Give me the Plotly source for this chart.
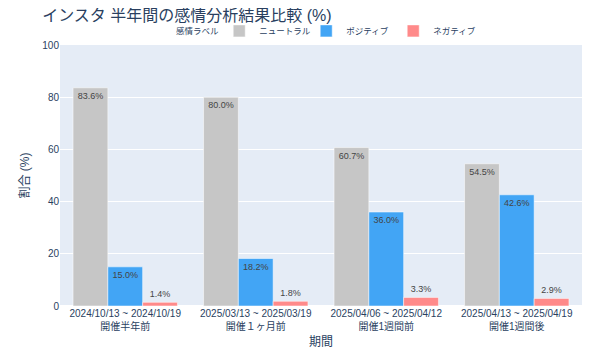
import plotly.graph_objects as go

periods = ["2024/10/13 ~ 2024/10/19<br>開催半年前",
           "2025/03/13 ~ 2025/03/19<br>開催１ヶ月前",
           "2025/04/06 ~ 2025/04/12<br>開催1週間前",
           "2025/04/13 ~ 2025/04/19<br>開催1週間後"]
neutral = [83.6, 80.0, 60.7, 54.5]
positive = [15.0, 18.2, 36.0, 42.6]
negative = [1.4, 1.8, 3.3, 2.9]

series = [("ニュートラル", neutral, "#C6C6C6"),
          ("ポジティブ", positive, "#42A5F5"),
          ("ネガティブ", negative, "#FF8A8A")]

FONT = "Liberation Sans, Noto Sans CJK JP, sans-serif"

fig = go.Figure()
for name, vals, col in series:
    fig.add_trace(go.Bar(
        x=periods, y=vals, name=name,
        marker=dict(color=col, line=dict(color="rgba(255,255,255,0.5)", width=1)),
        text=[f"{v:.1f}%" for v in vals], textposition="auto",
        textfont=dict(color="#444", size=9),
        insidetextanchor="end",
    ))

fig.add_annotation(text="感情ラベル", xref="paper", yref="paper", x=0.263, y=1.054,
                   xanchor="center", yanchor="middle", showarrow=False,
                   font=dict(size=8.5, color="#2a3f5f"))

fig.update_layout(
    width=600, height=355,
    font=dict(family=FONT, size=10, color="#2a3f5f"),
    title=dict(text="インスタ 半年間の感情分析結果比較 (%)", x=0.057, xanchor="left",
               y=1.0, yanchor="top", yref="container", pad=dict(t=2),
               font=dict(size=16, color="#2a3f5f")),
    legend=dict(orientation="h", x=0.305, xanchor="left", y=1.054, yanchor="middle",
                font=dict(size=8.5), entrywidth=42),
    barmode="group", bargap=0.2,
    plot_bgcolor="#E5ECF6", paper_bgcolor="white",
    margin=dict(l=52, r=26, t=37, b=57, autoexpand=False),
    xaxis=dict(title=dict(text="期間", standoff=6), tickfont=dict(size=10)),
    yaxis=dict(title=dict(text="割合 (%)", standoff=10), range=[0, 100], gridcolor="white",
               tickfont=dict(size=10), dtick=20),
)
fig.write_html("out.html")
